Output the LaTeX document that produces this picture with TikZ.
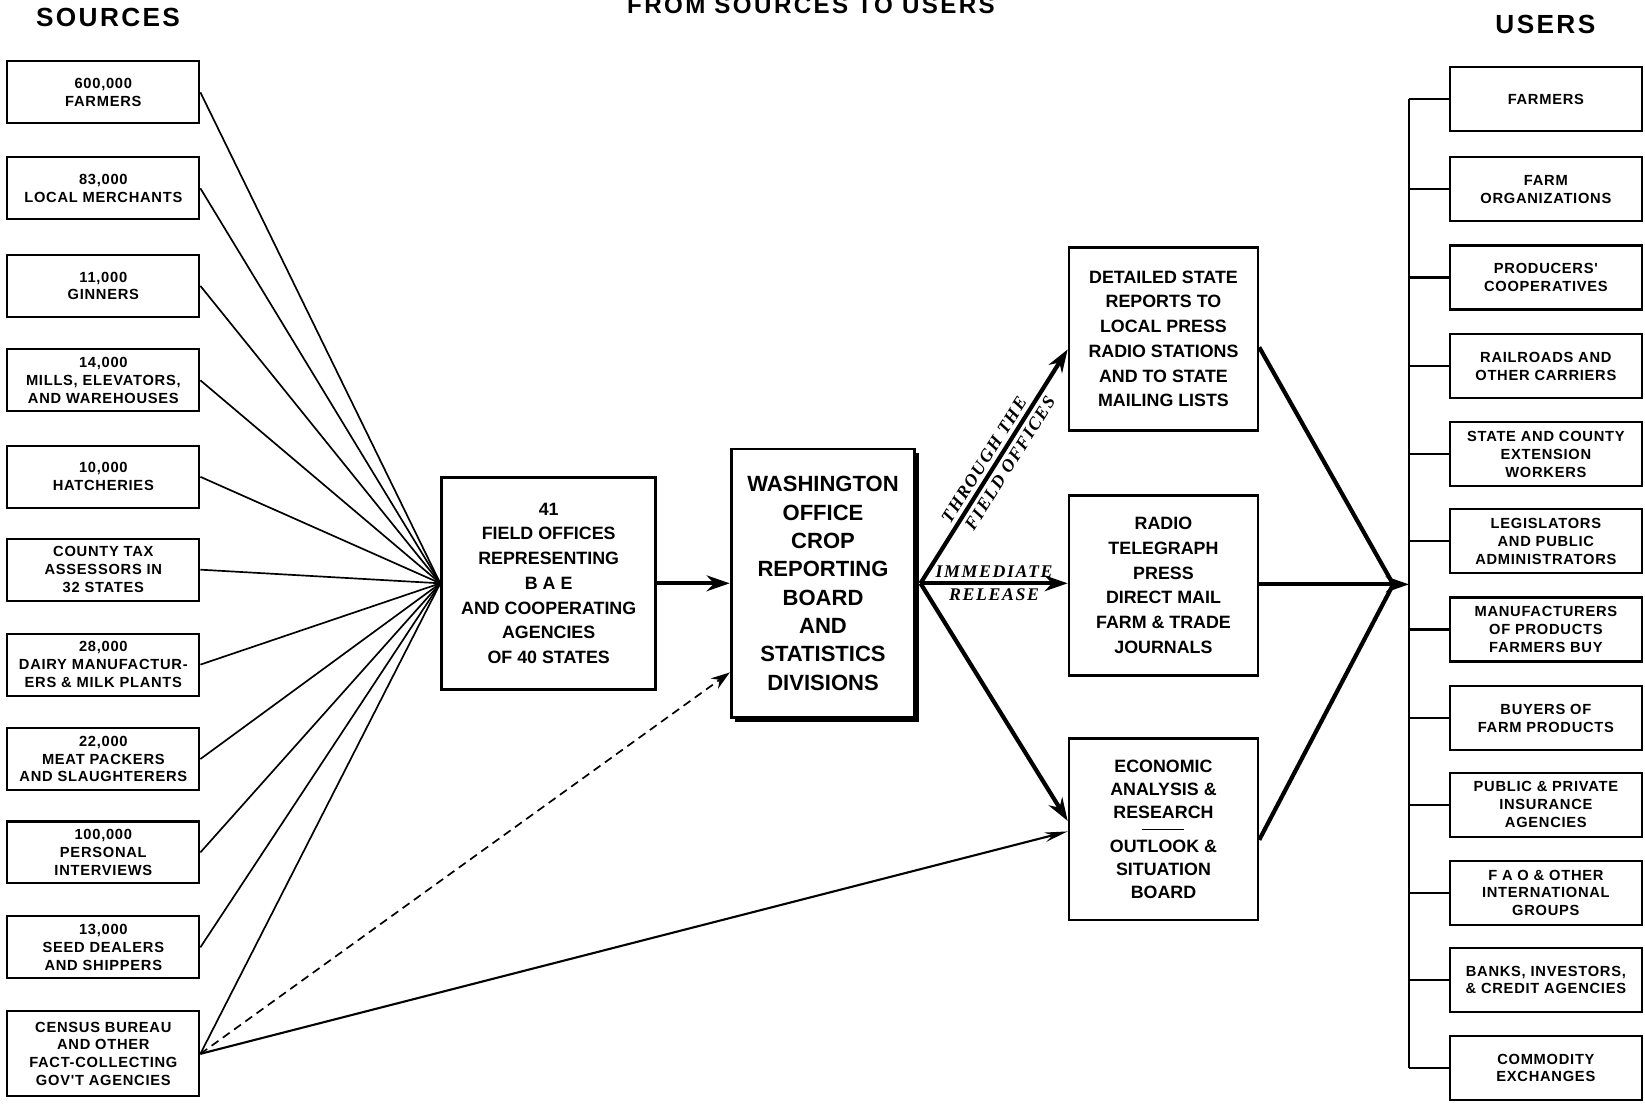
\documentclass[tikz,border=0pt]{standalone}
\usepackage{fontspec}
\setmainfont{Liberation Sans}
\newfontfamily\smallbf[LetterSpace=5]{Liberation Sans}
\newfontfamily\headbf[LetterSpace=9]{Liberation Sans}
\newfontfamily\titlebf[LetterSpace=10]{Liberation Sans}
\newfontfamily\midbf{Liberation Sans}
\newfontfamily\labfont[LetterSpace=9]{Liberation Serif}
\usetikzlibrary{arrows.meta,shadows,calc}
\tikzset{
  sbox/.style={draw, line width=1pt, fill=white, minimum width=91.5pt, minimum height=29.5pt,
    inner sep=0pt, align=center, font=\smallbf\bfseries\fontsize{7}{8.5}\selectfont},
  ubox/.style={sbox, minimum height=30.5pt},
  bigbox/.style={draw, line width=1.3pt, fill=white, inner sep=0pt, align=center,
    font=\midbf\bfseries\fontsize{8.5}{11.8}\selectfont},
  washbox/.style={draw, line width=1.4pt, fill=white, inner sep=0pt, align=center,
    font=\midbf\bfseries\fontsize{10.5}{13.5}\selectfont,
    drop shadow={shadow xshift=2pt, shadow yshift=-2pt, opacity=1, fill=black}},
  fanline/.style={line width=0.8pt},
  thickarr/.style={line width=2pt, -{Stealth[length=11pt,width=7.5pt]}},
  thinarr/.style={line width=1pt, -{Stealth[length=11pt,width=4.5pt]}},
  dasharr/.style={line width=0.8pt, dash pattern=on 4pt off 2.6pt, -{Stealth[length=9pt,width=6pt,inset=3pt]}},
  heavyline/.style={line width=2pt},
  busline/.style={line width=1pt},
  labstyle/.style={font=\labfont\bfseries\itshape\fontsize{8.5}{10}\selectfont, inner sep=1.8pt},
  headstyle/.style={font=\headbf\bfseries\fontsize{12.5}{14}\selectfont},
}
\begin{document}
\begin{tikzpicture}[x=0.5pt,y=-0.5pt]
\useasboundingbox (0,0) rectangle (1568,1055);
\clip (0,0) rectangle (1568,1055);

% headings
\node[font=\titlebf\bfseries\fontsize{11.5}{13}\selectfont, anchor=base] (title) at (773,13) {FROM SOURCES TO USERS};
\node[headstyle] (srchead) at (103,17) {SOURCES};
\node[headstyle] (userhead) at (1473,23) {USERS};

% sources
\node[sbox] (s1) at (98.5,88) {600,000\\FARMERS};
\node[sbox] (s2) at (98.5,179.5) {83,000\\LOCAL MERCHANTS};
\node[sbox] (s3) at (98.5,272.5) {11,000\\GINNERS};
\node[sbox] (s4) at (98.5,362.5) {14,000\\MILLS, ELEVATORS,\\AND WAREHOUSES};
\node[sbox] (s5) at (98.5,454.5) {10,000\\HATCHERIES};
\node[sbox] (s6) at (98.5,543) {COUNTY TAX\\ASSESSORS IN\\32 STATES};
\node[sbox] (s7) at (98.5,633.5) {28,000\\DAIRY MANUFACTUR-\\ERS \& MILK PLANTS};
\node[sbox] (s8) at (98.5,723.5) {22,000\\MEAT PACKERS\\AND SLAUGHTERERS};
\node[sbox] (s9) at (98.5,812.5) {100,000\\PERSONAL\\INTERVIEWS};
\node[sbox] (s10) at (98.5,903) {13,000\\SEED DEALERS\\AND SHIPPERS};
\node[sbox, minimum height=40.5pt] (s11) at (98.5,1004.5) {CENSUS BUREAU\\AND OTHER\\FACT-COLLECTING\\GOV'T AGENCIES};

% central boxes
\node[bigbox, minimum width=102pt, minimum height=101pt] (field) at (523,556)
  {41\\FIELD OFFICES\\REPRESENTING\\B A E\\AND COOPERATING\\AGENCIES\\OF 40 STATES};
\node[washbox, minimum width=87.5pt, minimum height=128pt] (wash) at (784.5,556)
  {WASHINGTON\\OFFICE\\CROP\\REPORTING\\BOARD\\AND\\STATISTICS\\DIVISIONS};
\node[bigbox, minimum width=90pt, minimum height=87pt] (det) at (1109,323)
  {DETAILED STATE\\REPORTS TO\\LOCAL PRESS\\RADIO STATIONS\\AND TO STATE\\MAILING LISTS};
\node[bigbox, minimum width=90pt, minimum height=86pt] (radio) at (1109,558)
  {RADIO\\TELEGRAPH\\PRESS\\DIRECT MAIL\\FARM \& TRADE\\JOURNALS};
\node[bigbox, minimum width=90pt, minimum height=86.5pt, font=\midbf\bfseries\fontsize{8.5}{11}\selectfont] (econ) at (1109,790.5)
  {ECONOMIC\\ANALYSIS \&\\RESEARCH\\[-3pt]\rule[2.5pt]{20pt}{0.8pt}\\[-3pt]OUTLOOK \&\\SITUATION\\BOARD};

% users
\node[ubox] (u1) at (1473.5,94.5) {FARMERS};
\node[ubox] (u2) at (1473.5,180.5) {FARM\\ORGANIZATIONS};
\node[ubox] (u3) at (1473.5,264.5) {PRODUCERS'\\COOPERATIVES};
\node[ubox] (u4) at (1473.5,349) {RAILROADS AND\\OTHER CARRIERS};
\node[ubox] (u5) at (1473.5,433) {STATE AND COUNTY\\EXTENSION\\WORKERS};
\node[ubox] (u6) at (1473.5,516) {LEGISLATORS\\AND PUBLIC\\ADMINISTRATORS};
\node[ubox] (u7) at (1473.5,600) {MANUFACTURERS\\OF PRODUCTS\\FARMERS BUY};
\node[ubox] (u8) at (1473.5,684.5) {BUYERS OF\\FARM PRODUCTS};
\node[ubox] (u9) at (1473.5,767) {PUBLIC \& PRIVATE\\INSURANCE\\AGENCIES};
\node[ubox] (u10) at (1473.5,851) {F A O \& OTHER\\INTERNATIONAL\\GROUPS};
\node[ubox] (u11) at (1473.5,934) {BANKS, INVESTORS,\\\& CREDIT AGENCIES};
\node[ubox] (u12) at (1473.5,1018) {COMMODITY\\EXCHANGES};

% fan-in to field offices
\coordinate (F) at (field.west);
\foreach \s in {s1,s2,s3,s4,s5,s6,s7,s8,s9,s10,s11}
  \draw[fanline] (\s.east) -- (F);
\draw[dasharr] (s11.east) -- ([yshift=-42.5pt]wash.west);
\draw[thinarr] (s11.east) -- ([yshift=-1pt]econ.west);

% field to washington
\draw[thickarr] (field.east) -- (wash.west);

% washington out
\coordinate (W) at ([xshift=2pt]wash.east);
\draw[thickarr] (W) -- node[sloped, above, pos=0.5, labstyle] {THROUGH THE}
  node[sloped, below, pos=0.54, labstyle] {FIELD OFFICES} ([yshift=-5pt]det.west);
\draw[thickarr] (W) -- node[above, labstyle] {IMMEDIATE}
  node[below, labstyle] {RELEASE} (W -| radio.west);
\draw[thickarr] (W) -- ([yshift=4pt]econ.west);

% to users
\coordinate (B) at (1343,557);
\coordinate (C) at (1328,557);
\draw[heavyline] ([yshift=-4pt]det.east) -- (C);
\draw[heavyline] ([yshift=-5pt]econ.east) -- (C);
\draw[thickarr] (radio.east |- B) -- (B);

% users bus
\draw[busline] (u1.west -| B) -- (u12.west -| B);
\foreach \u in {u1,u2,u3,u4,u5,u6,u7,u8,u9,u10,u11,u12}
  \draw[busline] (\u.west -| B) -- (\u.west);
\end{tikzpicture}
\end{document}
